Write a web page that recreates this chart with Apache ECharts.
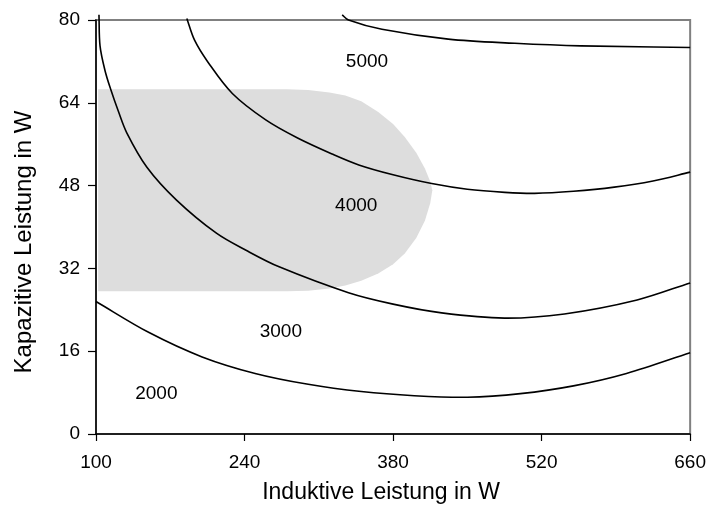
<!DOCTYPE html>
<html>
<head>
<meta charset="utf-8">
<script src="https://cdn.jsdelivr.net/npm/echarts@6/dist/echarts.min.js"></script>
<style>
  html, body { margin: 0; padding: 0; background: #fff; }
  #chart { width: 709px; height: 509px; }
</style>
</head>
<body>
<div id="chart"></div>
<script>
// Axis ticks
const xTicks = [100, 240, 380, 520, 660];
const yTicks = [0, 16, 32, 48, 64, 80];

// Contour lines of constant total power (W): inductive power (x) vs capacitive power (y)
const c2000x = [100, 150, 200, 250, 300, 350, 400, 450, 500, 550, 600, 660];
const c2000y = [25.6, 19.6, 14.9, 11.7, 9.6, 8.2, 7.4, 7.1, 7.8, 9.3, 11.7, 15.7];

const c3000x = [102.8, 103.8, 108.4, 114, 121, 129, 147.8, 175.9, 213.5, 241.4, 272.6, 338, 380, 425.8, 485, 541.5, 610, 660];
const c3000y = [81, 75, 70.3, 66.5, 62.4, 58.2, 51.6, 45.2, 38.8, 35.5, 32.3, 27.3, 25.1, 23.4, 22.4, 23.2, 25.9, 29.2];

const c4000x = [185.6, 192.9, 205.4, 228.5, 260, 290, 322.6, 347.7, 380, 416.4, 450, 485.3, 513.4, 550, 588.5, 625, 660];
const c4000y = [80.3, 76.1, 71.9, 65.8, 60.7, 57.2, 54.1, 52.0, 50.1, 48.4, 47.3, 46.7, 46.5, 46.9, 47.7, 48.9, 50.6];

const c5000x = [332, 338, 369.5, 432, 494.7, 557, 660];
const c5000y = [81, 80, 78.2, 76.3, 75.5, 75.0, 74.7];

// Operating region (shaded), traced clockwise from the lower left corner
const regionX = [102, 102, 280, 300, 320, 335, 350, 366, 380, 391, 402, 410, 415, 417, 415, 410, 402, 391, 380, 366, 350, 335, 320, 300, 280];
const regionY = [27.6, 66.6, 66.6, 66.45, 66.0, 65.4, 64.3, 62.2, 59.9, 57.4, 54.3, 51.3, 48.8, 47.1, 44.6, 41.2, 37.9, 34.9, 32.8, 31.0, 29.6, 28.7, 28.1, 27.7, 27.6];

// Contour level labels
const labelText = ['2000', '3000', '4000', '5000'];
const labelX = [156.9, 274.2, 345.3, 355.4];
const labelY = [7.7, 19.8, 44.1, 71.9];

const FONT = 'Arial, "Liberation Sans", sans-serif';

// Smooth path through pixel points (chord-length scaled Catmull-Rom as cubic Beziers)
function smoothPath(p) {
  const d = (a, b) => Math.hypot(b[0] - a[0], b[1] - a[1]);
  const tang = (i) => {
    const n = p.length;
    if (i === 0) { const l = d(p[0], p[1]); return [(p[1][0] - p[0][0]) / l, (p[1][1] - p[0][1]) / l]; }
    if (i === n - 1) { const l = d(p[n - 2], p[n - 1]); return [(p[n - 1][0] - p[n - 2][0]) / l, (p[n - 1][1] - p[n - 2][1]) / l]; }
    const l = d(p[i - 1], p[i]) + d(p[i], p[i + 1]);
    return [(p[i + 1][0] - p[i - 1][0]) / l, (p[i + 1][1] - p[i - 1][1]) / l];
  };
  let s = 'M' + p[0][0] + ' ' + p[0][1];
  for (let i = 0; i < p.length - 1; i++) {
    const L = d(p[i], p[i + 1]) / 3;
    const t0 = tang(i), t1 = tang(i + 1);
    s += ' C' + (p[i][0] + t0[0] * L) + ' ' + (p[i][1] + t0[1] * L) + ' ' +
      (p[i + 1][0] - t1[0] * L) + ' ' + (p[i + 1][1] - t1[1] * L) + ' ' +
      p[i + 1][0] + ' ' + p[i + 1][1];
  }
  return s;
}

function contour(xs, ys) {
  return {
    type: 'custom',
    silent: true,
    clip: false,
    z: 5,
    data: [0],
    renderItem: function (params, api) {
      const pts = xs.map((x, i) => api.coord([x, ys[i]]));
      return {
        type: 'path',
        shape: { pathData: smoothPath(pts) },
        style: { fill: null, stroke: '#000', lineWidth: 1.6 }
      };
    }
  };
}

const chart = echarts.init(document.getElementById('chart'), null, { renderer: 'canvas' });

chart.setOption({
  animation: false,
  backgroundColor: '#fff',
  grid: {
    left: 96, right: 16, top: 20, bottom: 75,
    show: true, borderColor: '#808080', borderWidth: 2, backgroundColor: 'transparent'
  },
  xAxis: {
    type: 'value',
    min: 100, max: 660,
    name: 'Induktive Leistung in W',
    nameLocation: 'middle',
    nameGap: 47,
    nameTextStyle: { fontFamily: FONT, fontSize: 23, color: '#000', padding: [0, 24, 0, 0] },
    axisLine: { show: true, onZero: false, lineStyle: { color: '#000', width: 1.5 } },
    axisTick: { show: true, customValues: xTicks, length: 7, inside: false, lineStyle: { color: '#000', width: 1.2 } },
    axisLabel: { customValues: xTicks, margin: 19, fontFamily: FONT, fontSize: 19, color: '#000' },
    splitLine: { show: false }
  },
  yAxis: {
    type: 'value',
    min: 0, max: 80,
    name: 'Kapazitive Leistung in W',
    nameLocation: 'middle',
    nameGap: 60,
    nameTextStyle: { fontFamily: FONT, fontSize: 24, color: '#000', padding: [0, 30, 0, 0] },
    axisLine: { show: true, onZero: false, lineStyle: { color: '#000', width: 1.5 } },
    axisTick: { show: true, customValues: yTicks, length: 8, inside: false, lineStyle: { color: '#000', width: 1.2 } },
    axisLabel: { customValues: yTicks, margin: 16, fontFamily: FONT, fontSize: 19, color: '#000' },
    splitLine: { show: false }
  },
  series: [
    {
      type: 'custom',
      silent: true,
      z: 1,
      data: [0],
      renderItem: function (params, api) {
        const pts = regionX.map((x, i) => api.coord([x, regionY[i]]));
        return {
          type: 'polygon',
          shape: { points: pts },
          style: { fill: '#dddddd', stroke: null }
        };
      }
    },
    contour(c2000x, c2000y),
    contour(c3000x, c3000y),
    contour(c4000x, c4000y),
    contour(c5000x, c5000y),
    {
      type: 'scatter',
      symbolSize: 0,
      silent: true,
      z: 6,
      itemStyle: { opacity: 1 },
      data: labelText.map((t, i) => ({ value: [labelX[i], labelY[i]], name: t })),
      label: {
        show: true,
        position: 'inside',
        formatter: p => p.name,
        fontFamily: FONT,
        fontSize: 19,
        color: '#000',
        textBorderWidth: 0
      }
    }
  ]
});
</script>
</body>
</html>
